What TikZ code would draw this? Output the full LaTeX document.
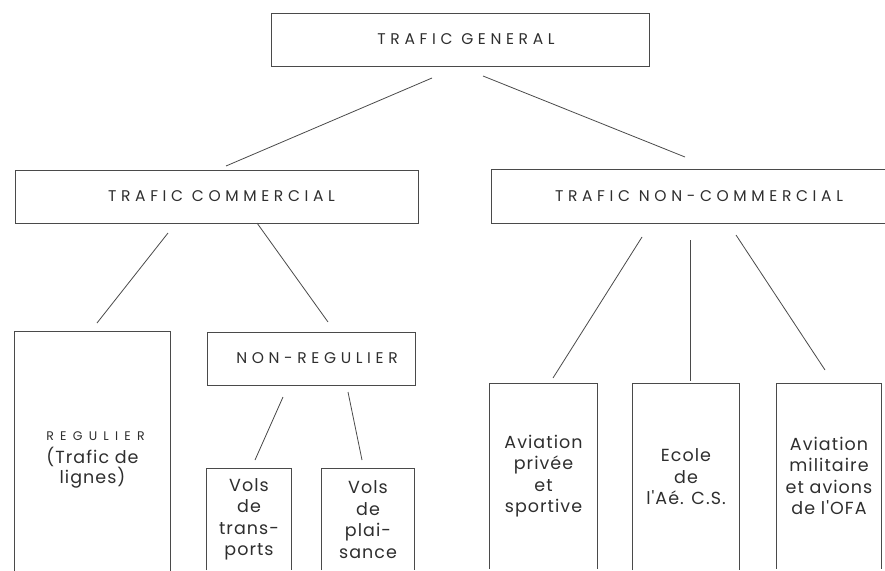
\documentclass[tikz,border=0pt]{standalone}
\usepackage{fontspec}
\setmainfont{Poppins}
\newfontfamily\capsfont[LetterSpace=30]{Poppins}
\newfontfamily\capsfontB[LetterSpace=50]{Poppins}
\newfontfamily\bodyfont[LetterSpace=6]{Poppins}
\definecolor{ink}{HTML}{4A4A4A}
\definecolor{txt}{HTML}{2E2E2E}
\begin{document}
\begin{tikzpicture}[x=1pt,y=-1pt,
  link/.style={draw=ink, line width=0.8pt},
  framed/.style={draw=ink, line width=0.9pt, rectangle, inner sep=0pt},
  area/.style={rectangle, inner sep=0pt, text=txt, align=center},
  capsA/.style={font=\capsfont\fontsize{15.5}{18}\selectfont, text=txt},
  body/.style={font=\bodyfont\fontsize{17.5}{21.5}\selectfont}
]
\useasboundingbox (0,0) rectangle (885,570);
% top level
\node[framed, capsA, minimum width=378pt, minimum height=53pt] (gen) at (460,39.5) {\hspace*{12pt}TRAFIC GENERAL};
\node[framed, capsA, minimum width=403pt, minimum height=53pt] (com) at (216.5,196.5) {\hspace*{10pt}TRAFIC COMMERCIAL};
\node[area, capsA, minimum width=408pt, minimum height=53pt] (ncom) at (696,196.5) {\hspace*{6pt}TRAFIC NON-COMMERCIAL};
\draw[link] (ncom.north east) -- (ncom.north west) -- (ncom.south west) -- (ncom.south east);
\node[framed, capsA, minimum width=208pt, minimum height=53pt] (nreg) at (311,358.5) {\hspace*{12pt}NON-REGULIER};
% open-bottom boxes
\node[area, body, minimum width=155pt, minimum height=256pt] (reg) at (92.5,460) {{\capsfontB\fontsize{12.5}{14}\selectfont\hspace*{6pt}REGULIER}\\[1pt](Trafic de\\[-1pt]lignes)};
\node[area, body, minimum width=84pt, minimum height=101pt] (vt) at (249,519.5) {Vols\\de\\trans-\\ports};
\node[area, body, minimum width=92pt, minimum height=101pt] (vp) at (368,519.5) {Vols\\de\\plai-\\sance};
\node[area, body, minimum width=107pt, minimum height=185pt] (ap) at (543.5,476) {Aviation\\privée\\et\\sportive};
\node[area, body, minimum width=106pt, minimum height=186pt] (ec) at (686,477) {Ecole\\de\\l'Aé. C.S.};
\node[area, body, minimum width=104pt, minimum height=185pt] (am) at (829,476) {Aviation\\militaire\\et avions\\de l'OFA};
\foreach \n in {reg,vt,vp,ap,ec,am}
  \draw[link] (\n.south west) -- (\n.north west) -- (\n.north east) -- (\n.south east);
% connector end points
\coordinate (g1) at (432,78);  \coordinate (c1) at (226,166);
\coordinate (g2) at (483,76);  \coordinate (n1) at (685,157);
\coordinate (c2) at (168,233); \coordinate (r1) at (97,323);
\coordinate (c3) at (257,223); \coordinate (nr1) at (328,322);
\coordinate (n2) at (642,237); \coordinate (a1) at (553,378);
\coordinate (n3) at (690,240); \coordinate (e1) at (690,381);
\coordinate (n4) at (736,235); \coordinate (m1) at (825,370);
\coordinate (nr2) at (283,397); \coordinate (t1) at (255,460);
\coordinate (nr3) at (348,392); \coordinate (p1) at (362,460);
\draw[link] (g1) -- (c1);
\draw[link] (g2) -- (n1);
\draw[link] (c2) -- (r1);
\draw[link] (c3) -- (nr1);
\draw[link] (n2) -- (a1);
\draw[link] (n3) -- (e1);
\draw[link] (n4) -- (m1);
\draw[link] (nr2) -- (t1);
\draw[link] (nr3) -- (p1);
\end{tikzpicture}
\end{document}
